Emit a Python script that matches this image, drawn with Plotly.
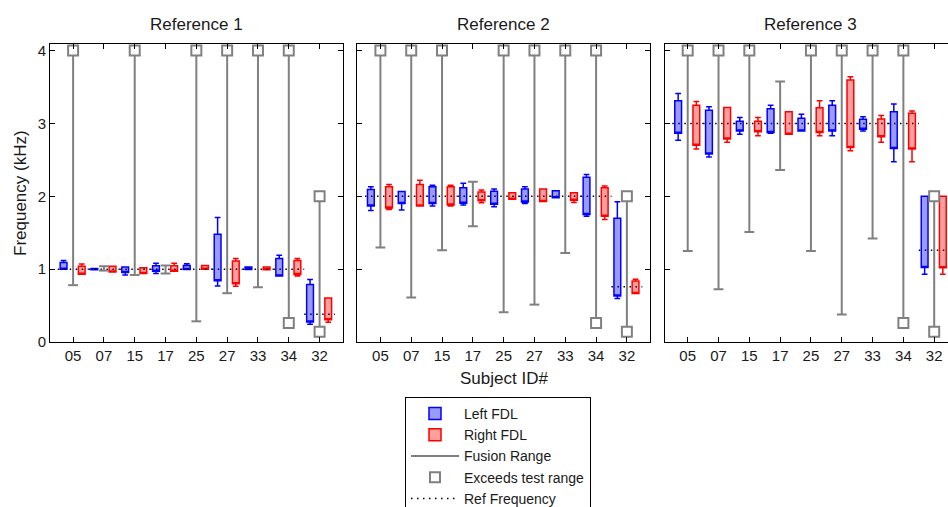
import plotly.graph_objects as go

# ---------------- data ----------------
subjects = ["05", "07", "15", "17", "25", "27", "33", "34", "32"]
panel_titles = ["Reference 1", "Reference 2", "Reference 3"]
y_ticks = [0, 1, 2, 3, 4]

# Left FDL box statistics (kHz), one list per reference panel
left_q1 = [
    [1.00, 0.99, 0.955, 0.97, 0.995, 0.84, 0.995, 0.907, 0.275],
    [1.865, 1.90, 1.90, 1.906, 1.89, 1.92, 1.98, 1.75, 0.632],
    [2.864, 2.58, 2.896, 2.877, 2.896, 2.896, 2.92, 2.657, 1.022],
]
left_q3 = [
    [1.09, 1.01, 1.03, 1.045, 1.05, 1.48, 1.03, 1.145, 0.79],
    [2.094, 2.066, 2.13, 2.117, 2.07, 2.10, 2.075, 2.26, 1.70],
    [3.31, 3.18, 3.03, 3.20, 3.07, 3.25, 3.056, 3.16, 2.00],
]
left_lo = [
    [1.00, 0.99, 0.92, 0.94, 0.995, 0.77, 0.995, 0.907, 0.243],
    [1.805, 1.81, 1.865, 1.88, 1.855, 1.90, 1.98, 1.727, 0.596],
    [2.77, 2.54, 2.85, 2.864, 2.896, 2.83, 2.896, 2.474, 0.93],
]
left_hi = [
    [1.12, 1.01, 1.03, 1.08, 1.075, 1.71, 1.03, 1.19, 0.857],
    [2.13, 2.066, 2.15, 2.18, 2.10, 2.13, 2.075, 2.30, 1.925],
    [3.41, 3.23, 3.08, 3.25, 3.125, 3.31, 3.09, 3.267, 2.00],
]

# Right FDL box statistics (kHz)
right_q1 = [
    [0.93, 0.96, 0.94, 0.97, 1.00, 0.80, 0.99, 0.925, 0.307],
    [1.84, 1.865, 1.88, 1.94, 1.96, 1.93, 1.947, 1.727, 0.664],
    [2.70, 2.786, 2.887, 2.85, 2.877, 2.67, 2.818, 2.65, 1.02],
]
right_q3 = [
    [1.04, 1.04, 1.02, 1.045, 1.05, 1.11, 1.03, 1.12, 0.605],
    [2.13, 2.16, 2.13, 2.06, 2.05, 2.10, 2.05, 2.117, 0.838],
    [3.25, 3.22, 3.03, 3.16, 3.216, 3.597, 3.06, 3.14, 2.00],
]
right_lo = [
    [0.93, 0.96, 0.94, 0.97, 1.00, 0.765, 0.99, 0.907, 0.27],
    [1.82, 1.865, 1.865, 1.91, 1.96, 1.93, 1.915, 1.68, 0.664],
    [2.65, 2.74, 2.83, 2.85, 2.83, 2.625, 2.74, 2.474, 0.93],
]
right_hi = [
    [1.07, 1.04, 1.02, 1.08, 1.05, 1.145, 1.03, 1.145, 0.605],
    [2.16, 2.22, 2.15, 2.085, 2.05, 2.10, 2.05, 2.14, 0.861],
    [3.30, 3.22, 3.08, 3.16, 3.31, 3.64, 3.107, 3.17, 2.00],
]

# Fusion range (kHz)
fusion_lo = [
    [0.78, 0.98, 0.92, 0.94, 0.284, 0.67, 0.75, 0.26, 0.14],
    [1.297, 0.61, 1.26, 1.59, 0.408, 0.513, 1.223, 0.26, 0.14],
    [1.25, 0.724, 1.51, 2.36, 1.25, 0.376, 1.42, 0.26, 0.14],
]
fusion_hi = [
    [4.0, 1.04, 4.0, 1.05, 4.0, 4.0, 4.0, 4.0, 2.0],
    [4.0, 4.0, 4.0, 2.20, 4.0, 4.0, 4.0, 4.0, 2.0],
    [4.0, 4.0, 4.0, 3.574, 4.0, 4.0, 4.0, 4.0, 2.0],
]
# whether the fusion range exceeded the test range at its low / high end
exceeds_low = [
    [0, 0, 0, 0, 0, 0, 0, 1, 1],
    [0, 0, 0, 0, 0, 0, 0, 1, 1],
    [0, 0, 0, 0, 0, 0, 0, 1, 1],
]
exceeds_high = [
    [1, 0, 1, 0, 1, 1, 1, 1, 1],
    [1, 1, 1, 0, 1, 1, 1, 1, 1],
    [1, 1, 1, 0, 1, 1, 1, 1, 1],
]

# Reference frequency per subject (kHz)
ref_freq = [
    [1, 1, 1, 1, 1, 1, 1, 1, 0.38],
    [2, 2, 2, 2, 2, 2, 2, 2, 0.76],
    [3, 3, 3, 3, 3, 3, 3, 3, 1.26],
]

# ---------------- styling ----------------
FONT = "Liberation Sans, Arial, sans-serif"
TXT = "#1a1a1a"
BLUE, BLUE_FILL = "#0000ff", "#9a9aff"
RED, RED_FILL = "#ff0000", "#ff9e9e"
GRAY = "#808080"
LEFT_OFF, RIGHT_OFF = -0.31, 0.28
BOX_W = 0.22

W, H = 948, 507
ML, MR, MT, MB = 50, 0, 44, 165
PW = W - ML - MR
PH = H - MT - MB
panel_px = 292.7
gap_px = 14.6
px_per_unit = panel_px / 9.5

pos = list(range(1, len(subjects) + 1))

fig = go.Figure()

for p in range(3):
    xa = "x" if p == 0 else f"x{p+1}"
    ya = "y" if p == 0 else f"y{p+1}"
    show = p == 0

    # reference frequency dotted segments
    rx, ry = [], []
    for i, f in zip(pos, ref_freq[p]):
        rx += [i - 0.5, i + 0.5, None]
        ry += [f, f, None]
    fig.add_trace(go.Scatter(
        x=rx, y=ry, mode="lines", name="Ref Frequency",
        line=dict(color="black", width=1.5, dash="1.5px,4.5px"),
        xaxis=xa, yaxis=ya, showlegend=show, legendrank=5, hoverinfo="skip"))

    # fusion range lines
    fx, fy = [], []
    for i, lo, hi in zip(pos, fusion_lo[p], fusion_hi[p]):
        fx += [i, i, None]
        fy += [lo, hi, None]
    fig.add_trace(go.Scatter(
        x=fx, y=fy, mode="lines", name="Fusion Range",
        line=dict(color=GRAY, width=2),
        xaxis=xa, yaxis=ya, showlegend=show, legendrank=3, hoverinfo="skip"))
    # fusion range end caps
    fig.add_trace(go.Scatter(
        x=pos + pos, y=fusion_lo[p] + fusion_hi[p], mode="markers",
        marker=dict(symbol="line-ew", size=7, line=dict(color=GRAY, width=2)),
        xaxis=xa, yaxis=ya, showlegend=False, hoverinfo="skip"))
    # exceeds test range squares
    sx = [i for i, e in zip(pos, exceeds_low[p]) if e] + \
         [i for i, e in zip(pos, exceeds_high[p]) if e]
    sy = [v for v, e in zip(fusion_lo[p], exceeds_low[p]) if e] + \
         [v for v, e in zip(fusion_hi[p], exceeds_high[p]) if e]
    fig.add_trace(go.Scatter(
        x=sx, y=sy, mode="markers", name="Exceeds test range",
        marker=dict(symbol="square", size=10, color="white",
                    line=dict(color=GRAY, width=2)),
        xaxis=xa, yaxis=ya, showlegend=show, legendrank=4, hoverinfo="skip"))

    # left / right FDL boxes
    for name, off, q1, q3, lo, hi, lc, fc, rank in [
        ("Left FDL", LEFT_OFF, left_q1[p], left_q3[p], left_lo[p], left_hi[p], BLUE, BLUE_FILL, 1),
        ("Right FDL", RIGHT_OFF, right_q1[p], right_q3[p], right_lo[p], right_hi[p], RED, RED_FILL, 2),
    ]:
        fig.add_trace(go.Box(
            x=[i + off for i in pos], q1=q1, median=q1, q3=q3,
            lowerfence=lo, upperfence=hi, width=BOX_W, whiskerwidth=0.85,
            line=dict(color=lc, width=1.5), fillcolor=fc, boxpoints=False,
            name=name, xaxis=xa, yaxis=ya, showlegend=show, legendrank=rank,
            hoverinfo="skip"))

axis_common = dict(
    showgrid=False, zeroline=False, showline=True, linecolor="black",
    linewidth=1, ticks="inside", ticklen=5, tickcolor="black",
    tickfont=dict(family=FONT, size=15, color=TXT),
)

layout = dict(
    width=W, height=H, paper_bgcolor="white", plot_bgcolor="white",
    margin=dict(l=ML, r=MR, t=MT, b=MB, autoexpand=False),
    font=dict(family=FONT, color=TXT),
    boxmode="overlay",
    legend=dict(
        x=(405 - ML) / PW, y=(PH - (397 - MT)) / PH, xanchor="left", yanchor="top",
        bordercolor="black", borderwidth=1, bgcolor="white",
        font=dict(family=FONT, size=14, color=TXT), tracegroupgap=0,
        itemwidth=48,
    ),
    annotations=[],
)

for p in range(3):
    x0 = p * (panel_px + gap_px)
    x1 = x0 + panel_px
    rng_hi = 9.75
    mirror_y = "ticks"
    if x1 > PW:
        rng_hi = 0.25 + (PW - x0) / px_per_unit
        x1 = PW
        mirror_y = False
    xkey = "xaxis" if p == 0 else f"xaxis{p+1}"
    ykey = "yaxis" if p == 0 else f"yaxis{p+1}"
    layout[xkey] = dict(
        axis_common, domain=[x0 / PW, x1 / PW], range=[0.25, rng_hi],
        tickmode="array", tickvals=pos, ticktext=subjects, mirror="ticks",
        anchor="y" if p == 0 else f"y{p+1}",
    )
    layout[ykey] = dict(
        axis_common, domain=[0, 1], range=[0, 4.09], tickmode="array",
        tickvals=y_ticks, showticklabels=(p == 0), mirror=mirror_y,
        anchor="x" if p == 0 else f"x{p+1}",
    )
    layout["annotations"].append(dict(
        text=panel_titles[p], xref="paper", yref="paper",
        x=(x0 + panel_px / 2) / PW, y=(PH + 20) / PH, xanchor="center",
        yanchor="middle", showarrow=False,
        font=dict(family=FONT, size=17, color=TXT)))

layout["annotations"].append(dict(
    text="Subject ID#", xref="paper", yref="paper",
    x=(panel_px + gap_px + panel_px / 2) / PW, y=-(378 - MT - PH) / PH,
    xanchor="center", yanchor="middle", showarrow=False,
    font=dict(family=FONT, size=17, color=TXT)))
layout["annotations"].append(dict(
    text="Frequency (kHz)", xref="paper", yref="paper",
    x=(20 - ML) / PW, y=0.5, xanchor="center", yanchor="middle",
    textangle=-90, showarrow=False,
    font=dict(family=FONT, size=17, color=TXT)))

fig.update_layout(**layout)
fig.write_html("out.html")
